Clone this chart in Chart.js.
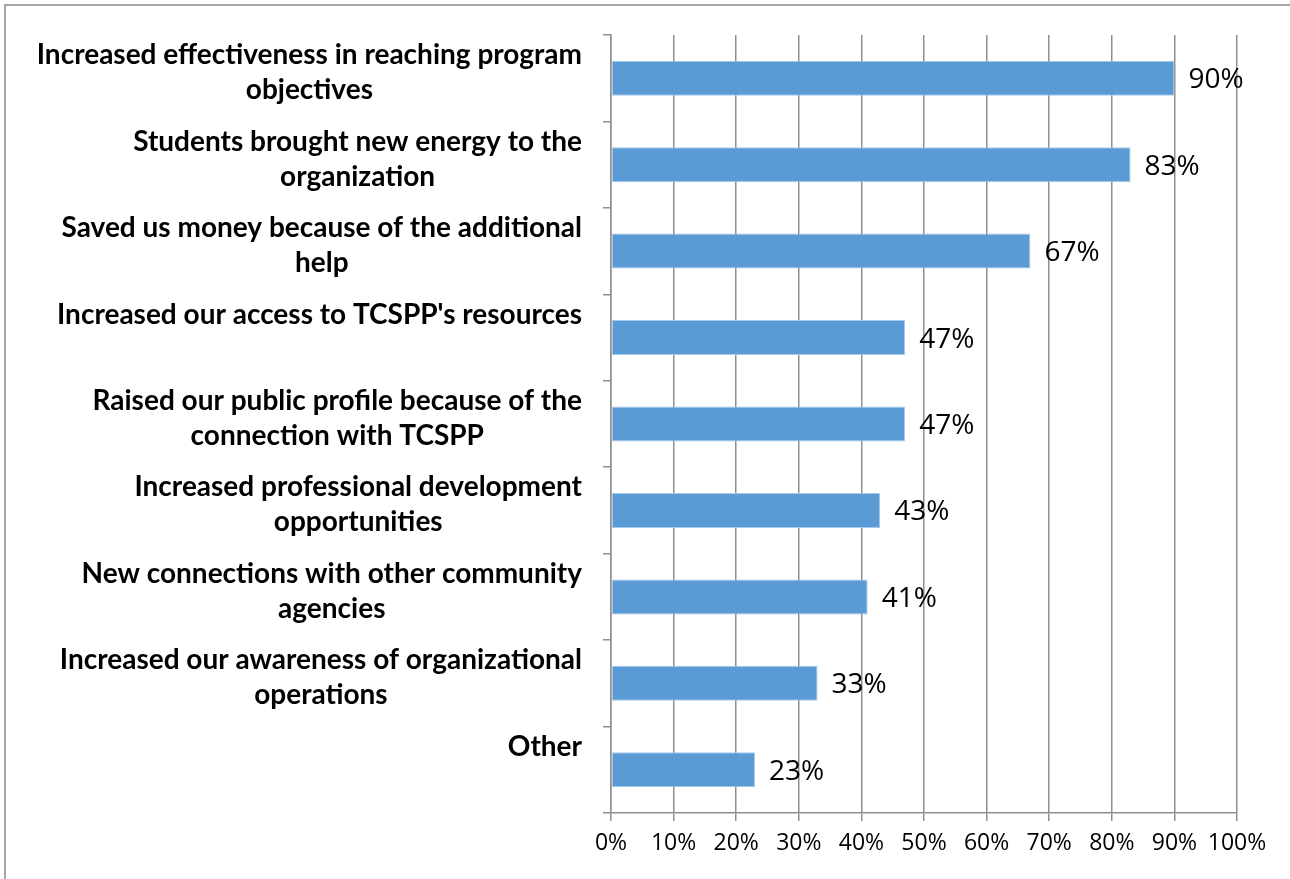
<!DOCTYPE html>
<html>
<head>
<meta charset="utf-8">
<title>Benefits to the organization</title>
<script src="https://cdn.jsdelivr.net/npm/chart.js@4"></script>
<style>
  html, body { margin: 0; padding: 0; background: #fff; overflow: hidden; }
  .frame {
    position: absolute; left: 4px; top: 4px;
    width: 1300px; height: 900px;
    border-top: 2px solid #a6a6a6; border-left: 2px solid #a6a6a6;
  }
  .wrap { position: absolute; left: 0; top: 0; width: 1290px; height: 879px; }
</style>
</head>
<body>
<div class="frame"></div>
<div class="wrap"><canvas id="benefits"></canvas></div>
<script>
// 分类标签（每项可分多行）
const categories = [
  ['Increased effectiveness in reaching program', 'objectives'],
  ['Students brought new energy to the', 'organization'],
  ['Saved us money because of the additional', 'help'],
  ["Increased our access to TCSPP's resources"],
  ['Raised our public profile because of the', 'connection with TCSPP'],
  ['Increased professional development', 'opportunities'],
  ['New connections with other community', 'agencies'],
  ['Increased our awareness of organizational', 'operations'],
  ['Other']
]

// 百分比数值
const percentValues = [90, 83, 67, 47, 47, 43, 41, 33, 23]

// 横轴刻度
const axisTicks = [0, 10, 20, 30, 40, 50, 60, 70, 80, 90, 100]

const GRID = '#8f8f8f'

/**
 * 左侧分类标签：整体右对齐，各行居中
 */
const categoryLabels = {
  id: 'categoryLabels',
  afterDraw(chart) {
    const ctx = chart.ctx
    const yScale = chart.scales.y
    const rightEdge = 582
    const lineHeight = 35
    ctx.save()
    ctx.font = 'bold 28px Lato'
    ctx.fillStyle = '#000'
    ctx.textAlign = 'center'
    ctx.textBaseline = 'middle'
    categories.forEach((lines, i) => {
      const tickY = yScale.getPixelForValue(i)
      const blockW = Math.max(...lines.map(l => ctx.measureText(l).width))
      const cx = rightEdge - blockW / 2
      lines.forEach((line, k) => {
        ctx.fillText(line, cx, tickY - 23 + k * lineHeight)
      })
    })
    ctx.restore()
  }
}

/**
 * 柱子右侧的数值标签
 */
const valueLabels = {
  id: 'valueLabels',
  afterDatasetsDraw(chart) {
    const ctx = chart.ctx
    const meta = chart.getDatasetMeta(0)
    ctx.save()
    ctx.font = '28px "Open Sans"'
    ctx.fillStyle = '#000'
    ctx.textAlign = 'left'
    ctx.textBaseline = 'middle'
    meta.data.forEach((bar, i) => {
      ctx.fillText(percentValues[i] + '%', bar.x + 14, bar.y + 2)
    })
    ctx.restore()
  }
}

const canvas = document.getElementById('benefits')

new Chart(canvas.getContext('2d'), {
  type: 'bar',
  data: {
    labels: categories.map(c => c.join(' ')),
    datasets: [{
      data: percentValues,
      backgroundColor: '#5b9bd5',
      borderColor: '#a9c9ea',
      borderWidth: 1,
      borderSkipped: false,
      barPercentage: 0.405,
      categoryPercentage: 1
    }]
  },
  options: {
    indexAxis: 'y',
    responsive: true,
    maintainAspectRatio: false,
    animation: false,
    layout: { padding: { left: 0, top: 35, right: 53, bottom: 0 } },
    plugins: {
      legend: { display: false },
      tooltip: { enabled: false }
    },
    scales: {
      x: {
        min: 0,
        max: 100,
        afterBuildTicks(scale) {
          scale.ticks = axisTicks.map(v => ({ value: v }))
        },
        afterFit(scale) { scale.height = 66 },
        grid: {
          color: GRID,
          lineWidth: 1.5,
          drawTicks: true,
          tickLength: 8
        },
        border: { color: GRID, width: 1.5 },
        ticks: {
          color: '#000',
          font: { family: 'Open Sans', size: 23 },
          padding: 9,
          maxRotation: 0,
          autoSkip: false,
          callback: v => v + '%'
        }
      },
      y: {
        afterFit(scale) { scale.width = 611 },
        grid: {
          drawOnChartArea: false,
          drawTicks: true,
          tickLength: 8,
          color: GRID,
          lineWidth: 1.5,
          offset: true
        },
        border: { color: GRID, width: 1.5 },
        ticks: { display: false }
      }
    }
  },
  plugins: [categoryLabels, valueLabels]
})
</script>
</body>
</html>
